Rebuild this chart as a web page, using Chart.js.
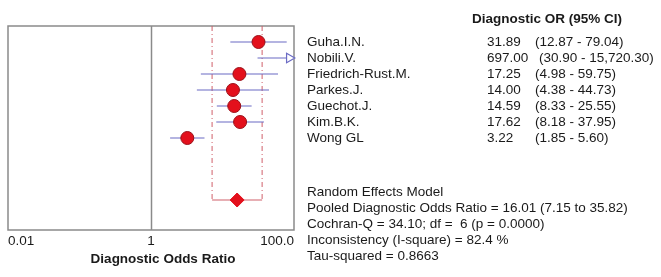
<!DOCTYPE html>
<html>
<head>
<meta charset="utf-8">
<script src="https://cdn.jsdelivr.net/npm/chart.js@4/dist/chart.umd.min.js"></script>
<style>
  html, body { margin: 0; padding: 0; background: #fff; }
  #wrap { width: 661px; height: 277px; }
</style>
</head>
<body>
<div id="wrap"><canvas id="forest"></canvas></div>
<script>
// study data
const studies = ['Guha.I.N.', 'Nobili.V.', 'Friedrich-Rust.M.', 'Parkes.J.', 'Guechot.J.', 'Kim.B.K.', 'Wong GL'];
const dor = [31.89, 697.00, 17.25, 14.00, 14.59, 17.62, 3.22];
const ciLow = [12.87, 30.90, 4.98, 4.38, 8.33, 8.18, 1.85];
const ciHigh = [79.04, 15720.30, 59.75, 44.73, 25.55, 37.95, 5.60];
const dorText = ['31.89', '697.00', '17.25', '14.00', '14.59', '17.62', '3.22'];
const ciText = ['(12.87 - 79.04)', '(30.90 - 15,720.30)', '(4.98 - 59.75)', '(4.38 - 44.73)', '(8.33 - 25.55)', '(8.18 - 37.95)', '(1.85 - 5.60)'];
const pooled = 16.01;
const pooledLow = 7.15;
const pooledHigh = 35.82;
const tickValues = [0.01, 1, 100];
const tickLabels = ['0.01', '1', '100.0'];
const summaryLines = [
  'Random Effects Model',
  'Pooled Diagnostic Odds Ratio = 16.01 (7.15 to 35.82)',
  'Cochran-Q = 34.10; df =  6 (p = 0.0000)',
  'Inconsistency (I-square) = 82.4 %',
  'Tau-squared = 0.8663'
];

const xMin = 0.01, xMax = 100;
const pooledRow = 9.875;
const FONT = '"Liberation Sans", Arial, sans-serif';

const datasets = [];

// confidence interval lines
studies.forEach((s, i) => {
  const hi = Math.min(ciHigh[i], xMax);
  datasets.push({
    type: 'line',
    data: [{x: ciLow[i], y: i}, {x: hi, y: i}],
    borderColor: '#6b6bc4',
    borderWidth: 1.2,
    pointRadius: 0,
    clip: false,
    order: 3
  });
});

// open arrow for the interval that runs off the axis
const arrowIdx = ciHigh.map((v, i) => v > xMax ? i : -1).filter(i => i >= 0);
datasets.push({
  type: 'scatter',
  data: arrowIdx.map(i => ({x: 86, y: i})),
  pointStyle: 'triangle',
  rotation: 90,
  pointRadius: 5.5,
  backgroundColor: '#ffffff',
  borderColor: '#6b6bc4',
  borderWidth: 1.2,
  clip: false,
  order: 2
});

// pooled CI: dash-dot verticals and a joining line
datasets.push({
  type: 'line',
  data: [{x: pooledLow, y: -1}, {x: pooledLow, y: pooledRow}],
  borderColor: '#d0606a',
  borderWidth: 1,
  borderDash: [5, 3, 1, 3],
  pointRadius: 0,
  order: 4
});
datasets.push({
  type: 'line',
  data: [{x: pooledHigh, y: -1}, {x: pooledHigh, y: pooledRow}],
  borderColor: '#d0606a',
  borderWidth: 1,
  borderDash: [5, 3, 1, 3],
  pointRadius: 0,
  order: 4
});
datasets.push({
  type: 'line',
  data: [{x: pooledLow, y: pooledRow}, {x: pooledHigh, y: pooledRow}],
  borderColor: '#d0606a',
  borderWidth: 1.2,
  pointRadius: 0,
  order: 4
});

// study estimates (only those inside the axis)
datasets.push({
  type: 'scatter',
  data: dor.map((v, i) => ({x: v, y: i})).filter(p => p.x <= xMax),
  pointStyle: 'circle',
  pointRadius: 6.5,
  backgroundColor: '#e3101c',
  borderColor: '#9a1018',
  borderWidth: 1,
  order: 1
});

// pooled diamond
datasets.push({
  type: 'scatter',
  data: [{x: pooled, y: pooledRow}],
  pointStyle: 'rectRot',
  pointRadius: 7,
  backgroundColor: '#e3101c',
  borderColor: '#e3101c',
  borderWidth: 1,
  order: 1
});

const decor = {
  id: 'decor',
  beforeDatasetsDraw(chart) {
    const {ctx, chartArea: a, scales: {x}} = chart;
    ctx.save();
    ctx.strokeStyle = '#8a8a8a';
    ctx.lineWidth = 1.5;
    ctx.strokeRect(a.left, a.top, a.right - a.left, a.bottom - a.top);
    const x1 = Math.round(x.getPixelForValue(1)) + 0.5;
    ctx.beginPath();
    ctx.moveTo(x1, a.top);
    ctx.lineTo(x1, a.bottom);
    ctx.stroke();
    ctx.restore();
  },
  afterDraw(chart) {
    const {ctx, chartArea: a, scales: {x, y}} = chart;
    ctx.save();
    ctx.fillStyle = '#1a1a1a';
    ctx.textBaseline = 'middle';
    ctx.font = '13.5px ' + FONT;
    tickValues.forEach((v, i) => {
      ctx.textAlign = i === 0 ? 'left' : (i === tickValues.length - 1 ? 'right' : 'center');
      ctx.fillText(tickLabels[i], x.getPixelForValue(v), a.bottom + 11);
    });
    ctx.textAlign = 'center';
    ctx.font = 'bold 13.5px ' + FONT;
    ctx.fillText('Diagnostic Odds Ratio', 163, a.bottom + 29);

    ctx.textAlign = 'left';
    ctx.fillText('Diagnostic OR (95% CI)', 472, 19);
    ctx.font = '13.5px ' + FONT;
    studies.forEach((s, i) => {
      const py = y.getPixelForValue(i);
      ctx.fillText(s, 307, py);
      ctx.fillText(dorText[i], 487, py);
      ctx.fillText(ciText[i], dorText[i].length > 5 ? 539 : 535, py);
    });
    summaryLines.forEach((t, k) => {
      ctx.fillText(t, 307, y.getPixelForValue(9.375 + k));
    });
    ctx.restore();
  }
};

new Chart(document.getElementById('forest'), {
  data: {datasets},
  options: {
    responsive: true,
    maintainAspectRatio: false,
    animation: false,
    layout: {padding: {left: 7, right: 367, top: 26, bottom: 47}},
    plugins: {legend: {display: false}, tooltip: {enabled: false}},
    scales: {
      x: {type: 'logarithmic', min: xMin, max: xMax, display: false},
      y: {type: 'linear', min: -1, max: 11.75, reverse: true, display: false}
    }
  },
  plugins: [decor]
});
</script>
</body>
</html>
